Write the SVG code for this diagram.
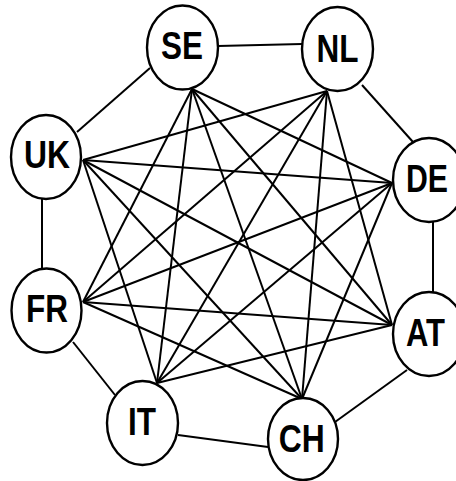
<svg xmlns="http://www.w3.org/2000/svg" width="456" height="481" viewBox="0 0 456 481">
<style>
.n ellipse{fill:#fff;stroke:#000;stroke-width:2.4}
.n text{font-family:"Liberation Sans",Arial,sans-serif;font-weight:bold;font-size:38px;fill:#000;text-anchor:middle}
#edges line{stroke:#000;stroke-width:2}
</style>
<rect width="456" height="481" fill="#fff"/>
<g id="edges">
<line x1="218" y1="46" x2="302" y2="44"/>
<line x1="150" y1="68" x2="77" y2="132"/>
<line x1="362" y1="85" x2="413" y2="142"/>
<line x1="42" y1="199" x2="42" y2="268"/>
<line x1="433" y1="222" x2="433" y2="292"/>
<line x1="73" y1="342" x2="115" y2="395"/>
<line x1="178" y1="435" x2="268" y2="447"/>
<line x1="335" y1="422" x2="407" y2="370"/>
<line x1="192" y1="89" x2="392" y2="183"/>
<line x1="192" y1="89" x2="392" y2="325"/>
<line x1="192" y1="89" x2="302" y2="399"/>
<line x1="192" y1="89" x2="157" y2="383"/>
<line x1="192" y1="89" x2="83" y2="302"/>
<line x1="327" y1="91" x2="83" y2="160"/>
<line x1="327" y1="91" x2="83" y2="302"/>
<line x1="327" y1="91" x2="157" y2="383"/>
<line x1="327" y1="91" x2="302" y2="399"/>
<line x1="327" y1="91" x2="392" y2="325"/>
<line x1="83" y1="160" x2="392" y2="183"/>
<line x1="83" y1="160" x2="392" y2="325"/>
<line x1="83" y1="160" x2="302" y2="399"/>
<line x1="83" y1="160" x2="157" y2="383"/>
<line x1="392" y1="183" x2="83" y2="302"/>
<line x1="392" y1="183" x2="157" y2="383"/>
<line x1="392" y1="183" x2="302" y2="399"/>
<line x1="83" y1="302" x2="392" y2="325"/>
<line x1="83" y1="302" x2="302" y2="399"/>
<line x1="392" y1="325" x2="157" y2="383"/>
</g>
<g id="SE" class="n"><ellipse cx="182.5" cy="47.5" rx="35.5" ry="42"/><text x="182" y="59" textLength="42" lengthAdjust="spacingAndGlyphs">SE</text></g>
<g id="NL" class="n"><ellipse cx="337.5" cy="49" rx="35.5" ry="42"/><text x="337.5" y="61.5" textLength="42" lengthAdjust="spacingAndGlyphs">NL</text></g>
<g id="UK" class="n"><ellipse cx="46" cy="157" rx="35" ry="42"/><text x="47" y="168" textLength="46" lengthAdjust="spacingAndGlyphs">UK</text></g>
<g id="DE" class="n"><ellipse cx="429" cy="180" rx="36" ry="42"/><text x="427" y="191.5" textLength="42" lengthAdjust="spacingAndGlyphs">DE</text></g>
<g id="FR" class="n"><ellipse cx="46.5" cy="310.5" rx="35" ry="42"/><text x="47" y="321.5" textLength="42" lengthAdjust="spacingAndGlyphs">FR</text></g>
<g id="AT" class="n"><ellipse cx="429" cy="334" rx="36" ry="42"/><text x="425.5" y="346" textLength="39" lengthAdjust="spacingAndGlyphs">AT</text></g>
<g id="IT" class="n"><ellipse cx="142.5" cy="423" rx="35.5" ry="42"/><text x="142" y="435" textLength="28" lengthAdjust="spacingAndGlyphs">IT</text></g>
<g id="CH" class="n"><ellipse cx="303" cy="439" rx="35" ry="41"/><text x="301.7" y="451.5" textLength="46" lengthAdjust="spacingAndGlyphs">CH</text></g>
</svg>
